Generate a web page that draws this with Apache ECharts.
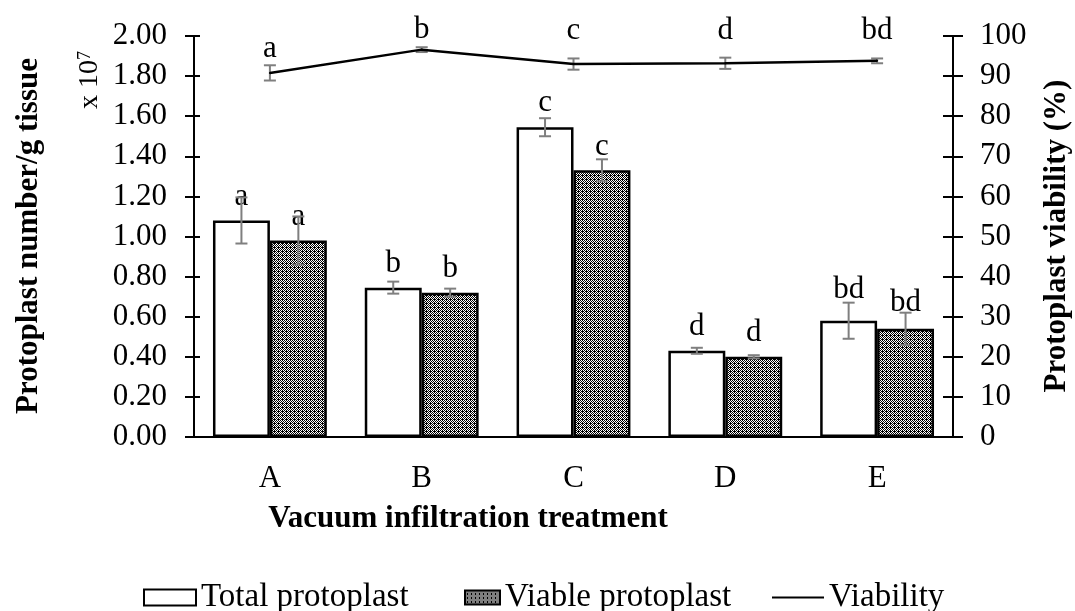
<!DOCTYPE html>
<html><head><meta charset="utf-8">
<script src="https://cdn.jsdelivr.net/npm/echarts@6/dist/echarts.min.js"></script>
<style>html,body{margin:0;padding:0;background:#fff}#c{width:1075px;height:611px}</style>
</head><body><div id="c"></div>
<script>
const categories = ['A', 'B', 'C', 'D', 'E'];
const totalProtoplast = [1.08, 0.745, 1.545, 0.43, 0.58];
const totalErr = [0.115, 0.03, 0.045, 0.015, 0.09];
const viableProtoplast = [0.98, 0.72, 1.33, 0.40, 0.54];
const viableErr = [0.12, 0.02, 0.055, 0.008, 0.08];
const viability = [90.8, 96.6, 93.0, 93.2, 93.8];
const viabilityErr = [1.9, 0.6, 1.4, 1.4, 0.6];
const totalLetters = ['a', 'b', 'c', 'd', 'bd'];
const viableLetters = ['a', 'b', 'c', 'd', 'bd'];
const viabilityLetters = ['a', 'b', 'c', 'd', 'bd'];

// styling
const FONT = '"Liberation Serif", "Times New Roman", serif';
const lineLabelDist = [8, 3, 17, 16, 14];
const totalLabelDist = [8, 8, 9, 8, 15];
const viableLabelDist = [8, 8, 8, 8, 10];

function makePattern() {
  const rows = ['1010', '0101', '1010', '0111'];
  const cv = document.createElement('canvas');
  cv.width = 4; cv.height = 4;
  const ctx = cv.getContext('2d');
  ctx.fillStyle = '#fff'; ctx.fillRect(0, 0, 4, 4);
  ctx.fillStyle = '#000';
  rows.forEach((r, y) => { for (let x = 0; x < 4; x++) if (r[x] === '1') ctx.fillRect(x, y, 1, 1); });
  return cv;
}
const pattern = { image: makePattern(), repeat: 'repeat' };

function errSeries(vals, errs, axisIndex, shift, cap) {
  return {
    type: 'custom', yAxisIndex: axisIndex, z: 6, silent: true,
    data: vals.map((v, i) => [i, v, errs[i]]),
    renderItem: function (params, api) {
      const i = api.value(0), v = api.value(1), e = api.value(2);
      const band = api.size([1, 0])[0];
      const top = api.coord([i, v + e]);
      const bot = api.coord([i, v - e]);
      const x = top[0] + shift * band;
      const st = { stroke: '#7f7f7f', lineWidth: 2 };
      return {
        type: 'group', children: [
          { type: 'line', shape: { x1: x, y1: top[1], x2: x, y2: bot[1] }, style: st },
          { type: 'line', shape: { x1: x - cap, y1: top[1], x2: x + cap, y2: top[1] }, style: st },
          { type: 'line', shape: { x1: x - cap, y1: bot[1], x2: x + cap, y2: bot[1] }, style: st }
        ]
      };
    }
  };
}

const chart = echarts.init(document.getElementById('c'));
const axisText = { fontFamily: FONT, fontSize: 31, color: '#000' };
const legendText = { fontFamily: FONT, fontSize: 33, color: '#000' };
const option = {
  animation: false,
  backgroundColor: '#fff',
  grid: { left: 194, right: 122, top: 36, bottom: 174 },
  xAxis: {
    type: 'category', data: categories,
    axisLine: { lineStyle: { color: '#000', width: 2 } },
    axisTick: { alignWithLabel: true, length: 6, lineStyle: { color: '#000', width: 2 } },
    axisLabel: Object.assign({ margin: 26 }, axisText),
    splitLine: { show: false }
  },
  yAxis: [
    {
      type: 'value', min: 0, max: 2, interval: 0.2, position: 'left',
      axisLine: { show: true, lineStyle: { color: '#000', width: 2 } },
      axisTick: { show: true, length: 9, lineStyle: { color: '#000', width: 2 } },
      axisLabel: Object.assign({ margin: 27, formatter: v => v.toFixed(2) }, axisText),
      splitLine: { show: false }
    },
    {
      type: 'value', min: 0, max: 100, interval: 10, position: 'right',
      axisLine: { show: true, lineStyle: { color: '#000', width: 2 } },
      axisTick: { show: true, length: 10, lineStyle: { color: '#000', width: 2 } },
      axisLabel: Object.assign({ margin: 27 }, axisText),
      splitLine: { show: false }
    },
    {
      type: 'value', min: 0, max: 2, interval: 0.2, position: 'left',
      axisLine: { show: false },
      axisTick: { show: true, inside: true, length: 6, lineStyle: { color: '#000', width: 2 } },
      axisLabel: { show: false }, splitLine: { show: false }
    },
    {
      type: 'value', min: 0, max: 100, interval: 10, position: 'right',
      axisLine: { show: false },
      axisTick: { show: true, inside: true, length: 10, lineStyle: { color: '#000', width: 2 } },
      axisLabel: { show: false }, splitLine: { show: false }
    }
  ],
  legend: [
    {
      data: [{ name: 'Total protoplast', icon: 'rect' }], left: 143, top: 581, padding: 0,
      itemWidth: 52, itemHeight: 16, selectedMode: false, textStyle: legendText
    },
    {
      data: [{ name: 'Viable protoplast', icon: 'rect' }], left: 464, top: 581, padding: 0,
      itemWidth: 35, itemHeight: 14, selectedMode: false, textStyle: legendText
    },
    {
      data: [{ name: 'Viability', icon: 'rect', itemStyle: { color: '#000', borderWidth: 0 } }], left: 772, top: 581, padding: 0,
      itemWidth: 52, itemHeight: 2, selectedMode: false, textStyle: legendText
    }
  ],
  graphic: [
    { type: 'text', x: 29, y: 236, rotation: Math.PI / 2,
      style: { text: 'Protoplast number/g tissue', font: 'bold 31px ' + FONT, fill: '#000', align: 'center', verticalAlign: 'middle' } },
    { type: 'text', x: 90, y: 80, rotation: Math.PI / 2,
      style: { text: '{m|x 10}{s|7}', align: 'center', verticalAlign: 'middle', fill: '#000',
        rich: { m: { fontFamily: FONT, fontSize: 28, fill: '#000' }, s: { fontFamily: FONT, fontSize: 18, fill: '#000', verticalAlign: 'top' } } } },
    { type: 'text', x: 1057, y: 236, rotation: Math.PI / 2,
      style: { text: 'Protoplast viability (%)', font: 'bold 31px ' + FONT, fill: '#000', align: 'center', verticalAlign: 'middle' } },
    { type: 'text', x: 468, y: 519,
      style: { text: 'Vacuum infiltration treatment', font: 'bold 31px ' + FONT, fill: '#000', align: 'center', verticalAlign: 'middle' } }
  ],
  series: [
    {
      name: 'Total protoplast', type: 'bar', yAxisIndex: 0,
      data: totalProtoplast.map((v, i) => ({ value: v, label: { distance: totalLabelDist[i] } })),
      barGap: '0%', barCategoryGap: '25%',
      itemStyle: { color: '#fff', borderColor: '#000', borderWidth: 2.5 },
      label: { show: true, position: 'top', fontFamily: FONT, fontSize: 31, color: '#000',
        formatter: p => totalLetters[p.dataIndex] }
    },
    {
      name: 'Viable protoplast', type: 'bar', yAxisIndex: 0,
      data: viableProtoplast.map((v, i) => ({ value: v, label: { distance: viableLabelDist[i] } })),
      barGap: '0%', barCategoryGap: '25%',
      itemStyle: { color: pattern, borderColor: '#000', borderWidth: 2.5 },
      label: { show: true, position: 'top', fontFamily: FONT, fontSize: 31, color: '#000',
        formatter: p => viableLetters[p.dataIndex] }
    },
    {
      name: 'Viability', type: 'line', yAxisIndex: 1, z: 8,
      data: viability.map((v, i) => ({ value: v, label: { distance: lineLabelDist[i] } })),
      symbol: 'circle', symbolSize: 2, showSymbol: true,
      lineStyle: { color: '#000', width: 2.5 }, itemStyle: { color: '#000' },
      label: { show: true, position: 'top', fontFamily: FONT, fontSize: 31, color: '#000',
        formatter: p => viabilityLetters[p.dataIndex] }
    },
    errSeries(totalProtoplast, totalErr, 0, -0.1875, 6),
    errSeries(viableProtoplast, viableErr, 0, 0.1875, 6),
    errSeries(viability, viabilityErr, 1, 0, 6)
  ]
};
chart.setOption(option);
</script></body></html>
